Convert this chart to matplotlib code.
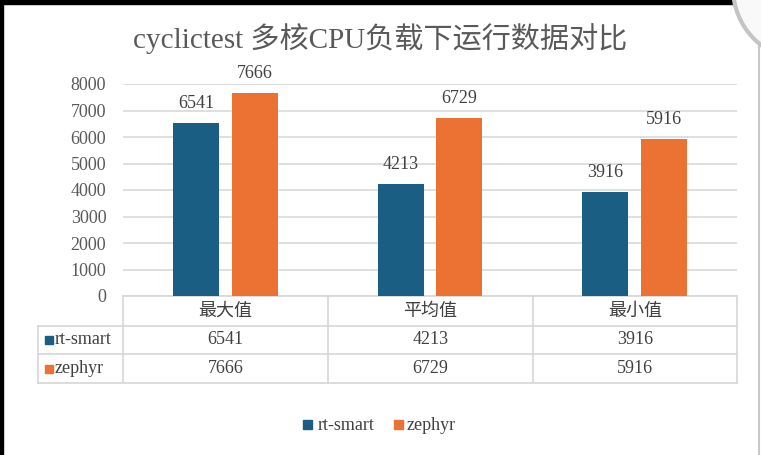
import matplotlib
matplotlib.use("Agg")
import matplotlib.pyplot as plt
from matplotlib.patches import Rectangle, Circle
import numpy as np

categories = ["最大值", "平均值", "最小值"]
series_names = ["rt-smart", "zephyr"]
rt_smart = [6541, 4213, 3916]
zephyr = [7666, 6729, 5916]
yticks = [0, 1000, 2000, 3000, 4000, 5000, 6000, 7000, 8000]
title = "cyclictest 多核CPU负载下运行数据对比"

colors = ["#1b5e83", "#eb7233"]
text_color = "#595959"
grid_color = "#d9d9d9"
fam = ["Liberation Serif", "Noto Sans CJK SC"]
plt.rcParams["font.family"] = fam

W, H = 761, 455
fig = plt.figure(figsize=(W / 100, H / 100), dpi=100)
fig.patch.set_facecolor("white")

# background / pixel overlay axes
bg = fig.add_axes([0, 0, 1, 1])
bg.set_xlim(0, W)
bg.set_ylim(H, 0)
bg.axis("off")
bg.add_patch(Rectangle((0, 0), W, 4, color="black", zorder=1))
bg.add_patch(Rectangle((0, 0), 2.5, H, color="black", zorder=1))
bg.plot([759, 759], [0, H], color="#c8c8c8", lw=1.5, zorder=2)
bg.add_patch(Circle((805, -12), 72, facecolor="#f9f9f9", edgecolor="#c4c4c4", lw=3, zorder=3))

# plot axes (pixels: x 123..737, y 84..296)
x0, x1, ytop, ybot = 123, 737, 84, 296
ax = fig.add_axes([x0 / W, (H - ybot) / H, (x1 - x0) / W, (ybot - ytop) / H])
ax.set_facecolor("none")
n = len(categories)
ax.set_xlim(0, n)
ax.set_ylim(0, 8000)
for s in ax.spines.values():
    s.set_visible(False)
ax.set_yticks(yticks)
ax.set_yticklabels([str(v) for v in yticks], fontsize=13, color=text_color)
ax.tick_params(axis="y", length=0, pad=12)
ax.set_xticks([])
ax.yaxis.grid(True, color=grid_color, lw=1.2)
ax.set_axisbelow(True)

centers = np.arange(n) + 0.5
bw = 0.224
off = 0.143
for vals, dx, c in [(rt_smart, -off, colors[0]), (zephyr, off, colors[1])]:
    bars = ax.bar(centers + dx, vals, width=bw, color=c, zorder=3)
    for b, v in zip(bars, vals):
        ax.text(b.get_x() + b.get_width() / 2, v + 420, str(v), ha="center", va="bottom",
                fontsize=13, color="#404040", clip_on=False)

fig.text(0.5, 1 - 39 / H, title, ha="center", va="center", fontsize=21, color=text_color)

# data table (pixel axes)
tb_left = 38
row_y = [296, 326, 354, 383]
col_x = [123, 328, 533, 737]
lc = "#d6d6d6"
bg.plot([col_x[0], col_x[-1]], [row_y[0], row_y[0]], color=lc, lw=1.2, zorder=4)
for y in row_y[1:]:
    bg.plot([tb_left, col_x[-1]], [y, y], color=lc, lw=1.2, zorder=4)
for x in col_x:
    bg.plot([x, x], [row_y[0], row_y[-1]], color=lc, lw=1.2, zorder=4)
bg.plot([tb_left, tb_left], [row_y[1], row_y[-1]], color=lc, lw=1.2, zorder=4)

for i, cat in enumerate(categories):
    cx = (col_x[i] + col_x[i + 1]) / 2
    bg.text(cx, (row_y[0] + row_y[1]) / 2, cat, ha="center", va="center",
            fontsize=13, color="#404040", zorder=5)
for r, (name, vals) in enumerate(zip(series_names, [rt_smart, zephyr])):
    yc = (row_y[r + 1] + row_y[r + 2]) / 2
    bg.add_patch(Rectangle((45, yc - 4), 8, 8, color=colors[r], zorder=5))
    bg.text(55, yc, name, ha="left", va="center", fontsize=13, color="#404040", zorder=5)
    for i, v in enumerate(vals):
        cx = (col_x[i] + col_x[i + 1]) / 2
        bg.text(cx, yc, str(v), ha="center", va="center", fontsize=13, color="#404040", zorder=5)

# bottom legend
ly = 425
bg.add_patch(Rectangle((303, ly - 5), 9, 9, color=colors[0], zorder=5))
bg.text(318, ly, series_names[0], ha="left", va="center", fontsize=13, color="#404040")
bg.add_patch(Rectangle((394, ly - 5), 9, 9, color=colors[1], zorder=5))
bg.text(407, ly, series_names[1], ha="left", va="center", fontsize=13, color="#404040")

fig.savefig("out.png", dpi=100)
